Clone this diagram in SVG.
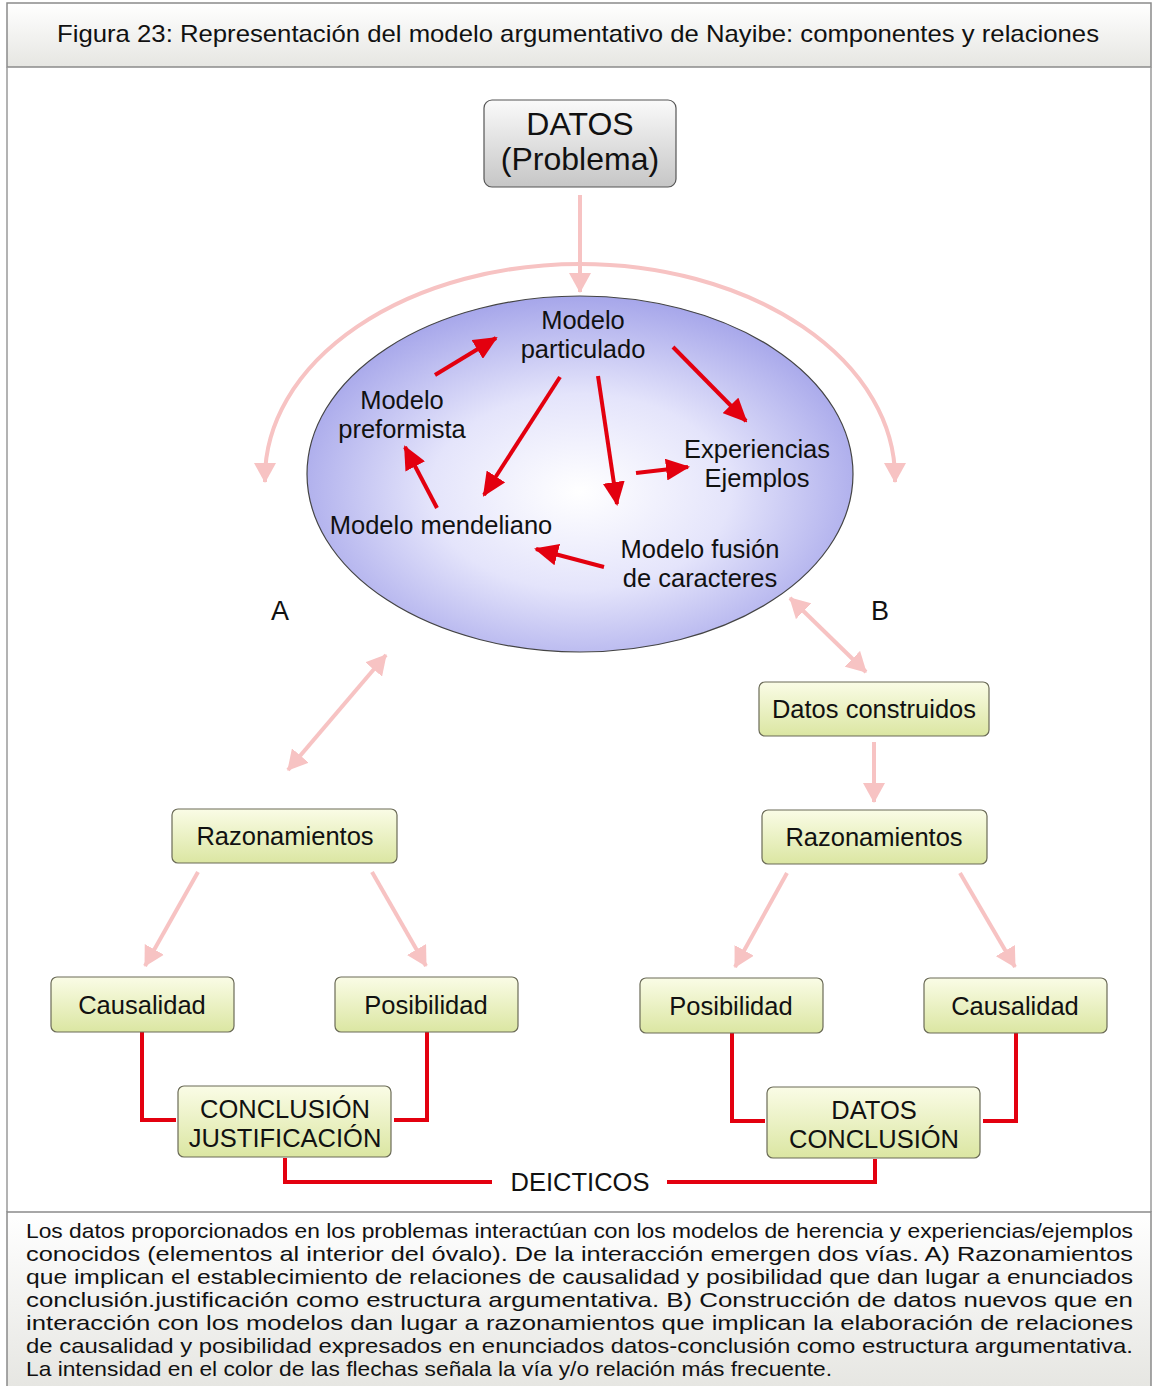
<svg xmlns="http://www.w3.org/2000/svg" width="1153" height="1386" viewBox="0 0 1153 1386">
<style>
.t{font-family:"Liberation Sans",Arial,sans-serif;fill:#111;text-anchor:middle}
.n{font-family:"Liberation Sans Narrow","Liberation Sans",Arial,sans-serif;fill:#111}
.box{fill:url(#gy);stroke:#6b6b57;stroke-width:1.2}
.red{stroke:#e3000f;stroke-width:4;fill:none}
.redA{stroke:#e3000f;stroke-width:4;fill:none;marker-end:url(#mr)}
.pink{stroke:#f7c3c3;stroke-width:4;fill:none;marker-end:url(#mp)}
.pink2{stroke:#f7c3c3;stroke-width:4;fill:none;marker-end:url(#mp);marker-start:url(#mp)}
</style>
<defs>
<linearGradient id="gy" x1="0" y1="0" x2="0" y2="1"><stop offset="0" stop-color="#fafce6"/><stop offset="1" stop-color="#dbe6a2"/></linearGradient>
<linearGradient id="gg" x1="0" y1="0" x2="0" y2="1"><stop offset="0" stop-color="#fafafa"/><stop offset="1" stop-color="#c6c6c6"/></linearGradient>
<linearGradient id="band" x1="0" y1="0" x2="0" y2="1"><stop offset="0" stop-color="#ffffff"/><stop offset="1" stop-color="#e6e6e2"/></linearGradient>
<radialGradient id="ov" cx="0.5" cy="0.55" r="0.55"><stop offset="0" stop-color="#ffffff"/><stop offset="0.5" stop-color="#e4e4fb"/><stop offset="1" stop-color="#a6a6ea"/></radialGradient>
<marker id="mr" markerUnits="userSpaceOnUse" markerWidth="24" markerHeight="22" refX="22" refY="11" orient="auto"><path d="M0,0 L24,11 L0,22 z" fill="#e3000f"/></marker>
<marker id="mp" markerUnits="userSpaceOnUse" markerWidth="20" markerHeight="22" refX="19" refY="11" orient="auto-start-reverse"><path d="M0,0 L20,11 L0,22 z" fill="#f7c3c3"/></marker>
</defs>
<rect x="0" y="0" width="1153" height="1386" fill="#fff"/>
<!-- title band -->
<rect x="7" y="3" width="1144" height="64" fill="url(#band)" stroke="#8a8a8a" stroke-width="1.5"/>
<text class="n" x="57" y="42" font-size="24" textLength="1042" lengthAdjust="spacingAndGlyphs">Figura 23: Representación del modelo argumentativo de Nayibe: componentes y relaciones</text>
<line x1="7" y1="67" x2="7" y2="1212" stroke="#9a9a9a" stroke-width="1.5"/>
<line x1="1151" y1="67" x2="1151" y2="1212" stroke="#9a9a9a" stroke-width="1.5"/>
<!-- caption band -->
<rect x="7" y="1212" width="1144" height="176" fill="url(#band)" stroke="#8a8a8a" stroke-width="1.5"/>
<g class="n" font-size="21">
<text x="26" y="1238" textLength="1107" lengthAdjust="spacingAndGlyphs">Los datos proporcionados en los problemas interactúan con los modelos de herencia y experiencias/ejemplos</text>
<text x="26" y="1261" textLength="1107" lengthAdjust="spacingAndGlyphs">conocidos (elementos al interior del óvalo). De la interacción emergen dos vías. A) Razonamientos</text>
<text x="26" y="1284" textLength="1107" lengthAdjust="spacingAndGlyphs">que implican el establecimiento de relaciones de causalidad y posibilidad que dan lugar a enunciados</text>
<text x="26" y="1307" textLength="1107" lengthAdjust="spacingAndGlyphs">conclusión.justificación como estructura argumentativa. B) Construcción de datos nuevos que en</text>
<text x="26" y="1330" textLength="1107" lengthAdjust="spacingAndGlyphs">interacción con los modelos dan lugar a razonamientos que implican la elaboración de relaciones</text>
<text x="26" y="1353" textLength="1107" lengthAdjust="spacingAndGlyphs">de causalidad y posibilidad expresados en enunciados datos-conclusión como estructura argumentativa.</text>
<text x="26" y="1376" textLength="806" lengthAdjust="spacingAndGlyphs">La intensidad en el color de las flechas señala la vía y/o relación más frecuente.</text>
</g>

<!-- oval -->
<g id="oval">
<ellipse cx="580" cy="474" rx="273" ry="178" fill="url(#ov)" stroke="#444" stroke-width="1.2"/>
</g>

<g id="connectors">
<line class="pink" x1="580" y1="195" x2="580" y2="292"/>
<path class="pink2" d="M265,482 L265,478 A315,214 0 0 1 895,478 L895,482"/>
<line class="pink2" x1="288" y1="770" x2="386" y2="655"/>
<line class="pink2" x1="790" y1="598" x2="866" y2="672"/>
<line class="pink" x1="874" y1="742" x2="874" y2="802"/>
<line class="pink" x1="198" y1="872" x2="145" y2="966"/>
<line class="pink" x1="372" y1="872" x2="426" y2="966"/>
<line class="pink" x1="787" y1="873" x2="735" y2="967"/>
<line class="pink" x1="960" y1="873" x2="1015" y2="967"/>
<line class="redA" x1="435" y1="375" x2="496" y2="338"/>
<line class="redA" x1="673" y1="347" x2="746" y2="421"/>
<line class="redA" x1="560" y1="377" x2="484" y2="495"/>
<line class="redA" x1="598" y1="376" x2="617" y2="504"/>
<line class="redA" x1="636" y1="473" x2="688" y2="467"/>
<line class="redA" x1="437" y1="508" x2="405" y2="447"/>
<line class="redA" x1="604" y1="567" x2="536" y2="549"/>
<polyline class="red" points="142,1032 142,1120 176,1120"/>
<polyline class="red" points="427,1032 427,1120 394,1120"/>
<polyline class="red" points="732,1033 732,1121 765,1121"/>
<polyline class="red" points="1016,1033 1016,1121 983,1121"/>
<polyline class="red" points="285,1158 285,1182 492,1182"/>
<polyline class="red" points="667,1182 875,1182 875,1159"/>
</g>

<g id="oval-labels" class="t" font-size="25.5">
<text x="583" y="329">Modelo</text><text x="583" y="358">particulado</text>
<text x="402" y="409">Modelo</text><text x="402" y="438">preformista</text>
<text x="757" y="458">Experiencias</text><text x="757" y="487">Ejemplos</text>
<text x="441" y="534">Modelo mendeliano</text>
<text x="700" y="558">Modelo fusión</text><text x="700" y="587">de caracteres</text>
</g>
<text class="t" x="280" y="620" font-size="27">A</text>
<text class="t" x="880" y="620" font-size="27">B</text>

<g id="datos">
<rect x="484" y="100" width="192" height="87" rx="8" fill="url(#gg)" stroke="#555" stroke-width="1.2"/>
<text class="t" x="580" y="135" font-size="32">DATOS</text>
<text class="t" x="580" y="170" font-size="32">(Problema)</text>
</g>
<g id="datos-construidos"><rect class="box" x="759" y="682" width="230" height="54" rx="6"/><text class="t" x="874" y="718" font-size="25.5">Datos construidos</text></g>
<g id="razon-b"><rect class="box" x="762" y="810" width="225" height="54" rx="6"/><text class="t" x="874" y="846" font-size="25.5">Razonamientos</text></g>
<g id="razon-a"><rect class="box" x="172" y="809" width="225" height="54" rx="6"/><text class="t" x="285" y="845" font-size="25.5">Razonamientos</text></g>
<g id="caus-a"><rect class="box" x="51" y="977" width="183" height="55" rx="6"/><text class="t" x="142" y="1014" font-size="25.5">Causalidad</text></g>
<g id="pos-a"><rect class="box" x="335" y="977" width="183" height="55" rx="6"/><text class="t" x="426" y="1014" font-size="25.5">Posibilidad</text></g>
<g id="pos-b"><rect class="box" x="640" y="978" width="183" height="55" rx="6"/><text class="t" x="731" y="1015" font-size="25.5">Posibilidad</text></g>
<g id="caus-b"><rect class="box" x="924" y="978" width="183" height="55" rx="6"/><text class="t" x="1015" y="1015" font-size="25.5">Causalidad</text></g>
<g id="concl-just"><rect class="box" x="178" y="1086" width="213" height="71" rx="6"/><text class="t" x="285" y="1118" font-size="25.5">CONCLUSIÓN</text><text class="t" x="285" y="1147" font-size="25.5">JUSTIFICACIÓN</text></g>
<g id="datos-concl"><rect class="box" x="767" y="1087" width="213" height="71" rx="6"/><text class="t" x="874" y="1119" font-size="25.5">DATOS</text><text class="t" x="874" y="1148" font-size="25.5">CONCLUSIÓN</text></g>
<g id="deicticos"><text class="t" x="580" y="1191" font-size="25.5">DEICTICOS</text></g>
</svg>
